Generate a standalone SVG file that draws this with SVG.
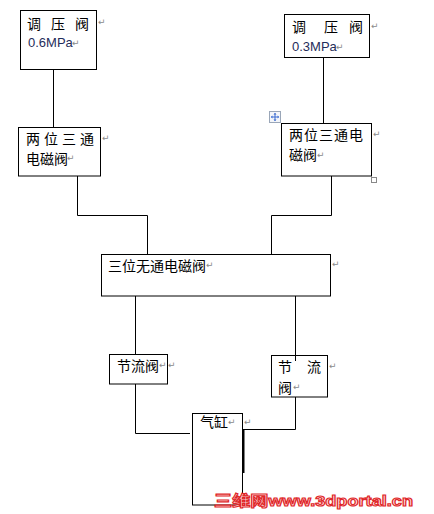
<svg xmlns="http://www.w3.org/2000/svg" width="434" height="514" viewBox="0 0 434 514">
<style>
.box{fill:#fff;stroke:#000;stroke-width:1}
.ln{fill:none;stroke:#000;stroke-width:1}
.t{font-family:"Noto Sans CJK SC","Noto Sans",sans-serif;font-size:14px;fill:#000}
.n{font-family:"Liberation Sans",Arial,sans-serif;font-size:13px;fill:#1f2d5a}
.r{font-family:"DejaVu Sans",sans-serif;font-size:9px;fill:#8a8a8a}
.wm{font-family:"Liberation Sans","Noto Sans CJK SC",sans-serif;font-size:15px;font-weight:bold;fill:#ffe4e4;stroke:#e0282a;stroke-width:1.1}
</style>
<rect width="434" height="514" fill="#fff"/>
<g id="connectors">
<path class="ln" d="M53.5 69.5V128"/>
<path class="ln" d="M323.5 57.5V123.5"/>
<path class="ln" d="M77.5 176V215.5H147.5V254.5"/>
<path class="ln" d="M331.5 176V215.5H271.5V254.5"/>
<path class="ln" d="M135.5 296V354.5" stroke="#555"/>
<path class="ln" d="M295.5 296V361"/>
<path class="ln" d="M135.5 384V433.5H190" stroke="#444"/>
<path class="ln" d="M295.5 390V429.5H243"/>
<path d="M243.5 429V473" stroke="#000" stroke-width="2"/>
</g>
<g id="reg1">
<rect class="box" x="20.5" y="10.5" width="76" height="59"/>
<text class="t" x="27" y="29">调</text><text class="t" x="51" y="29">压</text><text class="t" x="75" y="29">阀</text>
<text class="r" x="98" y="25">↵</text>
<text class="n" x="28" y="47">0.6MPa</text><text class="r" x="72" y="46">↵</text>
</g>
<g id="reg2">
<rect class="box" x="284.5" y="14.5" width="85" height="43"/>
<text class="t" x="292" y="32">调</text><text class="t" x="324" y="32">压</text><text class="t" x="349" y="32">阀</text>
<text class="r" x="371" y="29">↵</text>
<text class="n" x="292" y="51">0.3MPa</text><text class="r" x="336" y="50">↵</text>
</g>
<g id="sol1">
<rect class="box" x="18.5" y="127.5" width="82" height="48.5"/>
<text class="t" x="26" y="144">两</text><text class="t" x="44" y="144">位</text><text class="t" x="62" y="144">三</text><text class="t" x="80" y="144">通</text>
<text class="r" x="102" y="141">↵</text>
<text class="t" x="26" y="164">电磁阀</text><text class="r" x="67" y="161">↵</text>
</g>
<g id="sol2">
<rect class="box" x="281.5" y="123.5" width="90" height="52.5"/>
<text class="t" x="289" y="140" letter-spacing="1">两位三通电</text><text class="r" x="373" y="137">↵</text>
<text class="t" x="289" y="160">磁阀</text><text class="r" x="317" y="158">↵</text>
<g id="move-icon">
<rect x="269.5" y="111.5" width="11" height="11" fill="#f4f6fa" stroke="#9aa6b8"/>
<path d="M275 113.5V120.5M271.5 117H278.5" stroke="#3a6ad0" stroke-width="1"/>
<path d="M275 112.8l-1.5 1.6h3zM275 121.2l-1.5-1.6h3zM270.8 117l1.6-1.5v3zM279.2 117l-1.6-1.5v3z" fill="#3a6ad0"/>
</g>
<rect x="371.5" y="177.5" width="5" height="5" fill="#fff" stroke="#888"/>
</g>
<g id="sol3">
<rect class="box" x="101.5" y="254.5" width="229" height="41.5"/>
<text class="t" x="108" y="271">三位无通电磁阀</text><text class="r" x="206" y="268">↵</text>
<text class="r" x="332" y="267">↵</text>
</g>
<g id="thr1">
<rect class="box" x="109.5" y="354.5" width="58" height="29.5"/>
<text class="t" x="117" y="371">节流阀</text><text class="r" x="159" y="368">↵</text><text class="r" x="168" y="368">↵</text>
</g>
<g id="thr2">
<rect class="box" x="271.5" y="355.5" width="56" height="41.5"/>
<path class="ln" d="M295.5 355V361"/>
<text class="t" x="278" y="372">节</text><text class="t" x="307" y="372">流</text><text class="r" x="329" y="369">↵</text>
<text class="t" x="278" y="393">阀</text><text class="r" x="293" y="390">↵</text>
</g>
<g id="cyl">
<rect class="box" x="192.5" y="413.5" width="50" height="91.5"/>
<text class="t" x="200" y="427">气缸</text><text class="r" x="228" y="425">↵</text><text class="r" x="244" y="425">↵</text>
</g>
<text class="wm" x="214" y="506" textLength="199" lengthAdjust="spacingAndGlyphs">三维网www.3dportal.cn</text>
</svg>
